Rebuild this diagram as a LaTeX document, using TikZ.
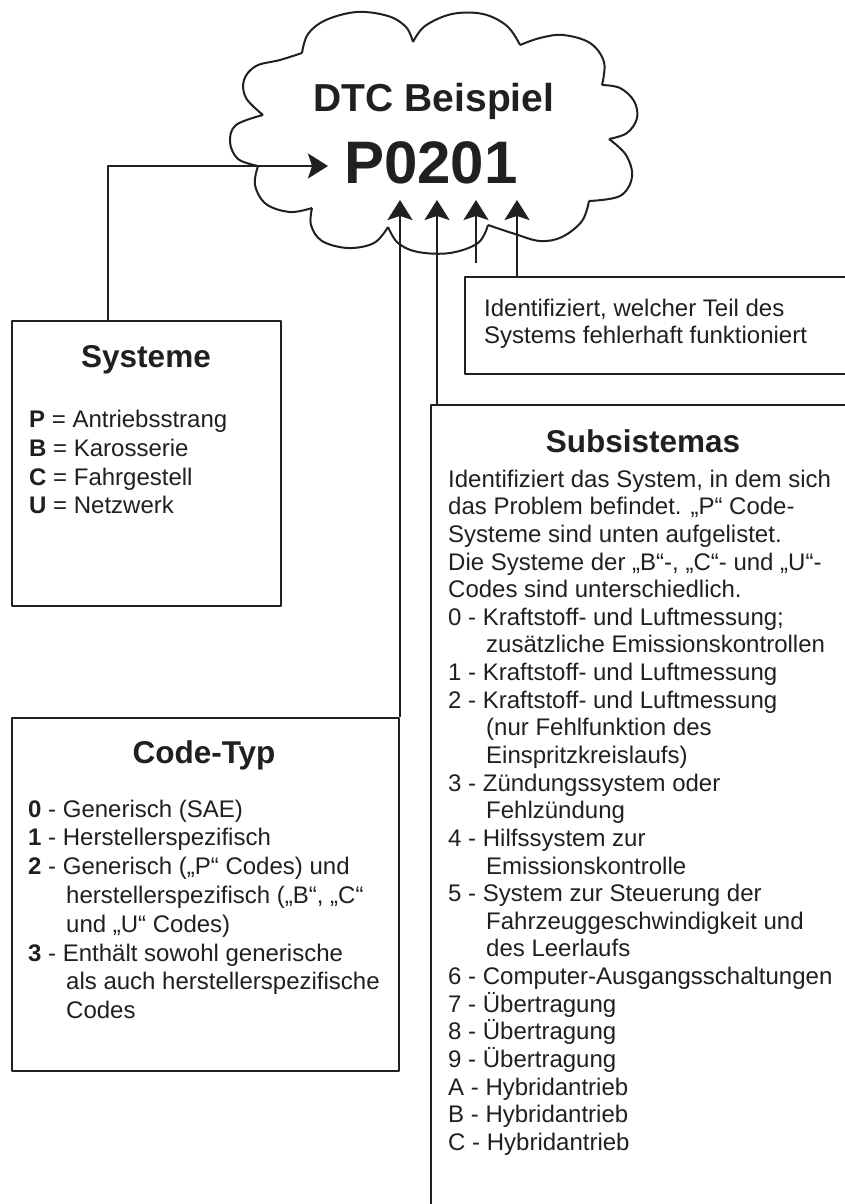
\documentclass[tikz,border=0pt]{standalone}
\usepackage{fontspec}
\setmainfont{Liberation Sans}
\usetikzlibrary{arrows.meta,calc}
\definecolor{ink}{RGB}{35,31,32}
\newcommand\hind{\hspace*{38pt}}
\begin{document}
\begin{tikzpicture}[x=1pt,y=-1pt,line join=round,
  box/.style={draw=ink,line width=2pt,inner sep=0pt,anchor=north west},
  conn/.style={draw=ink,line width=2.3pt,-{Stealth[length=20pt,width=25pt,inset=4pt]}},
  cloudline/.style={draw=ink,line width=2pt},
  ttl/.style={font=\fontsize{31.5}{36}\selectfont\bfseries,text=ink,inner sep=0pt,anchor=base},
  body/.style={font=\fontsize{24}{28.8}\selectfont,text=ink,align=left,inner sep=0pt,anchor=north west},
  sbody/.style={font=\fontsize{24}{27.64}\selectfont,text=ink,align=left,inner sep=0pt,anchor=north west}]
\useasboundingbox (0,0) rectangle (845,1204);
\clip (0,0) rectangle (845,1204);
\fill[white] (0,0) rectangle (845,1204);

% cloud
\draw[cloudline]
 plot[smooth,tension=0.6] coordinates {(263,115) (246,98) (244,80) (256,66) (280,60) (302,53)}
 plot[smooth,tension=0.6] coordinates {(302,53) (308,34) (326,20) (357,12) (388,16) (406,27) (413,42)}
 plot[smooth,tension=0.6] coordinates {(413,42) (425,26) (452,14) (483,14) (507,26) (520,45)}
 plot[smooth,tension=0.6] coordinates {(520,45) (540,38) (563,35) (590,43) (604,62) (602,85)}
 plot[smooth,tension=0.6] coordinates {(602,85) (620,88) (634,101) (637,118) (627,133) (609,139)}
 plot[smooth,tension=0.6] coordinates {(609,139) (626,155) (632,177) (620,196) (589,201)}
 plot[smooth,tension=0.6] coordinates {(589,201) (582,221) (562,237) (540,241) (515,234) (488,225)}
 plot[smooth,tension=0.6] coordinates {(488,225) (478,243) (450,253) (418,252) (398,243) (388,227)}
 plot[smooth,tension=0.6] coordinates {(388,227) (374,243) (348,248) (322,241) (311,225) (312,208)}
 plot[smooth,tension=0.6] coordinates {(312,208) (290,212) (266,204) (255,185) (258,166)}
 plot[smooth,tension=0.6] coordinates {(258,166) (238,159) (230,142) (236,125) (263,115)};

\node[font=\fontsize{39}{44}\selectfont\bfseries,text=ink,inner sep=0pt,anchor=base] (dtc) at (434,112) {DTC Beispiel};
\node[font=\fontsize{60}{66}\selectfont\bfseries,text=ink,inner sep=0pt,anchor=base] (code) at (431,183) {P0201};

% boxes
\node[box,minimum width=269pt,minimum height=285pt] (sys) at (11,320) {};
\node[box,minimum width=387pt,minimum height=353pt] (ctyp) at (11,717) {};
\node[box,minimum width=420pt,minimum height=97pt] (ident) at (464,276) {};
\node[box,minimum width=440pt,minimum height=840pt] (sub) at (430,404) {};

% texts
\node[ttl] (systitle) at (146,367) {Systeme};
\node[body] (syslist) at (29,410) {\textbf{P} = Antriebsstrang\\\textbf{B} = Karosserie\\\textbf{C} = Fahrgestell\\\textbf{U} = Netzwerk};

\node[ttl] (ctyptitle) at (204,763) {Code-Typ};
\node[body] (ctyplist) at (28,799.5) {\textbf{0} - Generisch (SAE)\\
\textbf{1} - Herstellerspezifisch\\
\textbf{2} - Generisch („P“ Codes) und\\
\hind herstellerspezifisch („B“, „C“\\
\hind und „U“ Codes)\\
\textbf{3} - Enthält sowohl generische\\
\hind als auch herstellerspezifische\\
\hind Codes};

\node[font=\fontsize{24}{27.5}\selectfont,text=ink,align=left,inner sep=0pt,anchor=north west] (identtext) at (484,298.5) {Identifiziert, welcher Teil des\\Systems fehlerhaft funktioniert};

\node[ttl] (subtitle) at (643,452) {Subsistemas};
\node[sbody] (sublist) at (448,469.5) {Identifiziert das System, in dem sich\\
das Problem befindet. „P“ Code-\\
Systeme sind unten aufgelistet.\\
Die Systeme der „B“-, „C“- und „U“-\\
Codes sind unterschiedlich.\\
0 - Kraftstoff- und Luftmessung;\\
\hind zusätzliche Emissionskontrollen\\
1 - Kraftstoff- und Luftmessung\\
2 - Kraftstoff- und Luftmessung\\
\hind (nur Fehlfunktion des\\
\hind Einspritzkreislaufs)\\
3 - Zündungssystem oder\\
\hind Fehlzündung\\
4 - Hilfssystem zur\\
\hind Emissionskontrolle\\
5 - System zur Steuerung der\\
\hind Fahrzeuggeschwindigkeit und\\
\hind des Leerlaufs\\
6 - Computer-Ausgangsschaltungen\\
7 - Übertragung\\
8 - Übertragung\\
9 - Übertragung\\
A - Hybridantrieb\\
B - Hybridantrieb\\
C - Hybridantrieb};

% connectors
\coordinate (tipP) at (328,166);
\coordinate (tiprow) at (0,200);
\coordinate (a3) at (476,263);
\draw[conn] ([xshift=97pt]sys.north west) |- (tipP);
\draw[conn] (ctyp.north east) -- (ctyp.north east |- tiprow);
\draw[conn] ([xshift=7pt]sub.north west) -- ([xshift=7pt]sub.north west |- tiprow);
\draw[conn] (a3) -- (a3 |- tiprow);
\draw[conn] ([xshift=53pt]ident.north west) -- ([xshift=53pt]ident.north west |- tiprow);
\end{tikzpicture}
\end{document}
